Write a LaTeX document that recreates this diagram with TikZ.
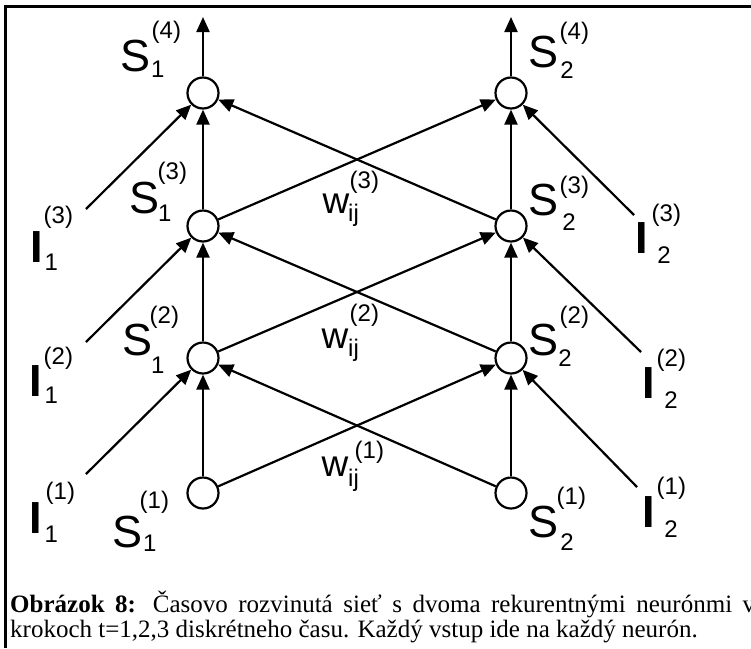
\documentclass[tikz,border=0pt]{standalone}
\usepackage{fontspec}
\setmainfont{Liberation Serif}
\newfontfamily\arial{Liberation Sans}
\usetikzlibrary{arrows.meta}
\begin{document}
\begin{tikzpicture}[x=1pt,y=-1pt,
  neuron/.style={circle,draw,line width=2.2pt,minimum size=31pt,inner sep=0pt,fill=white},
  arr/.style={line width=2.2pt,-{Triangle[length=15pt,width=13pt]}},
  bigl/.style={font=\arial\fontsize{45}{45}\selectfont,inner sep=0pt,anchor=base west},
  bigi/.style={font=\arial\bfseries\fontsize{45}{45}\selectfont,inner sep=0pt,anchor=base west},
  wbig/.style={font=\arial\fontsize{37}{37}\selectfont,inner sep=0pt,anchor=base west},
  subscr/.style={font=\arial\fontsize{24}{24}\selectfont,inner sep=0pt,anchor=base west},
  supscr/.style={font=\arial\fontsize{24}{24}\selectfont,inner sep=0pt,anchor=north west},
  capline/.style={inner sep=0pt,anchor=base west,font=\fontsize{25}{29}\selectfont},
  frm/.style={line width=2.8pt}]
\useasboundingbox (0,0) rectangle (751,648);
% frame
\coordinate (f1) at (5.3,648);
\coordinate (f2) at (5.3,6.5);
\coordinate (f3) at (751,6.5);
\draw[frm] (f1) -- (f2) -- (f3);
% neurons
\node[neuron] (L4) at (203,93) {};
\node[neuron] (L3) at (203,226) {};
\node[neuron] (L2) at (203,358) {};
\node[neuron] (L1) at (203,493) {};
\node[neuron] (R4) at (511,93) {};
\node[neuron] (R3) at (511,226) {};
\node[neuron] (R2) at (511,358) {};
\node[neuron] (R1) at (511,493) {};
% free ends
\coordinate (oL) at (203,17);
\coordinate (oR) at (511,17);
\coordinate (iL3) at (86,209);
\coordinate (iL2) at (86,342);
\coordinate (iL1) at (86,474);
\coordinate (iR3) at (634,215);
\coordinate (iR2) at (641,352);
\coordinate (iR1) at (637,487);
% connectors
\draw[arr] (L4) -- (oL);
\draw[arr] (R4) -- (oR);
\draw[arr] (L3) -- (L4);
\draw[arr] (L2) -- (L3);
\draw[arr] (L1) -- (L2);
\draw[arr] (R3) -- (R4);
\draw[arr] (R2) -- (R3);
\draw[arr] (R1) -- (R2);
\draw[arr] (L3) -- (R4);
\draw[arr] (R3) -- (L4);
\draw[arr] (L2) -- (R3);
\draw[arr] (R2) -- (L3);
\draw[arr] (L1) -- (R2);
\draw[arr] (R1) -- (L2);
\draw[arr] (iL3) -- (L4);
\draw[arr] (iL2) -- (L3);
\draw[arr] (iL1) -- (L2);
\draw[arr] (iR3) -- (R4);
\draw[arr] (iR2) -- (R3);
\draw[arr] (iR1) -- (R2);
% labels S1
\node[bigl] (s14) at (120,71) {S};
\node[subscr] (s14b) at (151,77) {1};
\node[supscr] (s14p) at (151.5,21) {(4)};
\node[bigl] (s13) at (129,213) {S};
\node[subscr] (s13b) at (158,221) {1};
\node[supscr] (s13p) at (157.5,162) {(3)};
\node[bigl] (s12) at (122,355) {S};
\node[subscr] (s12b) at (151,373) {1};
\node[supscr] (s12p) at (149.5,306) {(2)};
\node[bigl] (s11) at (112,547) {S};
\node[subscr] (s11b) at (143,551) {1};
\node[supscr] (s11p) at (139.5,491) {(1)};
% labels S2
\node[bigl] (s24) at (528,67) {S};
\node[subscr] (s24b) at (560.2,78) {2};
\node[supscr] (s24p) at (559.5,22) {(4)};
\node[bigl] (s23) at (528,215) {S};
\node[subscr] (s23b) at (562.2,230) {2};
\node[supscr] (s23p) at (559.5,176) {(3)};
\node[bigl] (s22) at (528,355) {S};
\node[subscr] (s22b) at (558.2,366) {2};
\node[supscr] (s22p) at (559.5,306) {(2)};
\node[bigl] (s21) at (528,537) {S};
\node[subscr] (s21b) at (560.2,550) {2};
\node[supscr] (s21p) at (556.5,487) {(1)};
% labels I1
\node[bigi] (i13) at (30,262) {I};
\node[subscr] (i13b) at (44.4,270) {1};
\node[supscr] (i13p) at (43.5,206) {(3)};
\node[bigi] (i12) at (29,396) {I};
\node[subscr] (i12b) at (44.4,403) {1};
\node[supscr] (i12p) at (43.5,347) {(2)};
\node[bigi] (i11) at (29,533) {I};
\node[subscr] (i11b) at (44.4,542) {1};
\node[supscr] (i11p) at (45.5,482) {(1)};
% labels I2
\node[bigi] (i23) at (635,253) {I};
\node[subscr] (i23b) at (657.2,263) {2};
\node[supscr] (i23p) at (651.5,204) {(3)};
\node[bigi] (i22) at (642,398) {I};
\node[subscr] (i22b) at (664.2,408) {2};
\node[supscr] (i22p) at (656.5,349) {(2)};
\node[bigi] (i21) at (642,527) {I};
\node[subscr] (i21b) at (664.2,537) {2};
\node[supscr] (i21p) at (656.5,477) {(1)};
% weights
\node[wbig] (w3) at (322.5,213) {w};
\node[supscr] (w3b) at (348,204) {ij};
\node[supscr] (w3p) at (349.5,171) {(3)};
\node[wbig] (w2) at (321.5,348) {w};
\node[supscr] (w2b) at (348,339) {ij};
\node[supscr] (w2p) at (349.5,304) {(2)};
\node[wbig] (w1) at (321.5,476) {w};
\node[supscr] (w1b) at (348,469) {ij};
\node[supscr] (w1p) at (354.5,441) {(1)};
% caption
\node[capline] (c1) at (10,612) {\makebox[745pt][s]{\textbf{Obrázok 8:} Časovo rozvinutá sieť s dvoma rekurentnými neurónmi v}};
\node[capline] (c2) at (10,637) {krokoch t=1,2,3 diskrétneho času. Každý vstup ide na každý neurón.};
\end{tikzpicture}
\end{document}
